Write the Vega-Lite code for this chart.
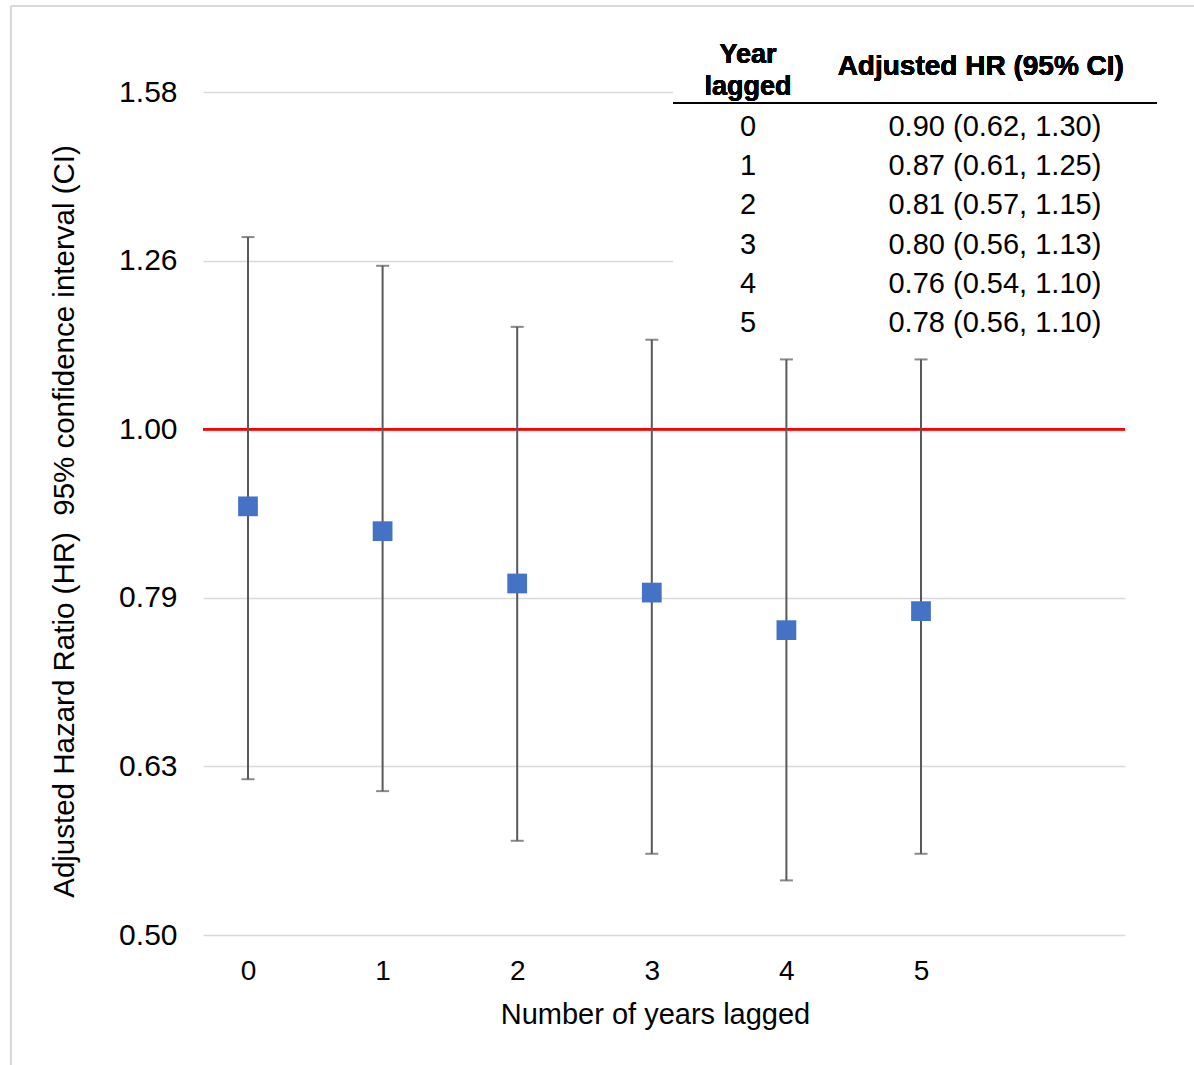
{
  "$schema": "https://vega.github.io/schema/vega-lite/v6.json",
  "width": 922,
  "height": 843,
  "autosize": {"type": "none"},
  "padding": {"left": 203, "top": 92, "right": 69, "bottom": 130},
  "background": "white",
  "config": {"view": {"stroke": null}, "font": "Liberation Sans"},
  "datasets": {
    "hr": [
      {"lag": 0, "hr": 0.90, "lo": 0.62, "hi": 1.30, "label": "0.90 (0.62, 1.30)"},
      {"lag": 1, "hr": 0.87, "lo": 0.61, "hi": 1.25, "label": "0.87 (0.61, 1.25)"},
      {"lag": 2, "hr": 0.81, "lo": 0.57, "hi": 1.15, "label": "0.81 (0.57, 1.15)"},
      {"lag": 3, "hr": 0.80, "lo": 0.56, "hi": 1.13, "label": "0.80 (0.56, 1.13)"},
      {"lag": 4, "hr": 0.76, "lo": 0.54, "hi": 1.10, "label": "0.76 (0.54, 1.10)"},
      {"lag": 5, "hr": 0.78, "lo": 0.56, "hi": 1.10, "label": "0.78 (0.56, 1.10)"}
    ]
  },
  "data": {"name": "hr"},
  "layer": [
    {
      "layer": [
        {
          "mark": {"type": "rule", "color": "#FF0000", "strokeWidth": 2},
          "encoding": {
            "y": {"datum": 1, "type": "quantitative", "scale": {"type": "log", "domain": [0.50119, 1.58489], "nice": false}}
          }
        },
        {
          "mark": {
            "type": "errorbar",
            "ticks": {"size": 13, "thickness": 2, "color": "#595959"},
            "rule": {"strokeWidth": 2, "color": "#595959"}
          },
          "encoding": {
            "x": {"field": "lag", "type": "quantitative", "scale": {"domain": [-0.3343, 6.5156], "nice": false, "zero": false},
              "axis": {
                "values": [0, 1, 2, 3, 4, 5], "format": "d", "grid": false, "domain": false, "ticks": false, "tickSize": 0,
                "labelFontSize": 28, "labelColor": "#000000", "labelBaseline": "alphabetic", "labelPadding": 44,
                "title": "Number of years lagged", "titleFontSize": 29, "titleFontWeight": "normal", "titleColor": "#000000",
                "titleX": 452, "titleY": 88, "titleBaseline": "alphabetic", "titleAlign": "center", "titleAnchor": null
              }
            },
            "y": {"field": "lo", "type": "quantitative", "scale": {"type": "log", "domain": [0.50119, 1.58489], "nice": false},
              "axis": {
                "values": [0.50119, 0.63096, 0.79433, 1, 1.25893, 1.58489], "format": ".2f",
                "grid": true, "gridColor": "#d9d9d9", "gridWidth": 1.5, "domain": false, "ticks": false, "tickSize": 0,
                "labelFontSize": 30, "labelColor": "#000000", "labelPadding": 26,
                "title": "Adjusted Hazard Ratio (HR)\u00a0 95% confidence interval (CI)", "titleFontSize": 29.5, "titleFontWeight": "normal",
                "titleColor": "#000000", "titleAngle": -90, "titleX": -130, "titleY": 429, "titleBaseline": "alphabetic", "titleAlign": "center", "titleAnchor": null
              }
            },
            "y2": {"field": "hi"}
          }
        },
        {
          "mark": {"type": "point", "shape": "square", "filled": true, "size": 390, "color": "#4472C4", "opacity": 1},
          "encoding": {
            "x": {"field": "lag", "type": "quantitative"},
            "y": {"field": "hr", "type": "quantitative"}
          }
        }
      ]
    },
    {
      "layer": [
        {
          "mark": {"type": "rect", "color": "white"},
          "encoding": {
            "x": {"datum": 3.158, "type": "quantitative", "scale": {"domain": [-0.3343, 6.5156], "nice": false, "zero": false}, "axis": null},
            "x2": {"datum": 7.5},
            "y": {"datum": -2.959, "type": "quantitative", "scale": {"domain": [-1.1224, 20.383], "nice": false, "zero": false, "reverse": true}, "axis": null},
            "y2": {"datum": 5.204}
          }
        },
        {
          "mark": {"type": "rule", "color": "#d9d9d9", "strokeWidth": 2},
          "encoding": {
            "x": {"datum": -1.761, "type": "quantitative"},
            "y": {"datum": -3.316, "type": "quantitative"},
            "y2": {"datum": 30}
          }
        },
        {
          "mark": {"type": "rule", "color": "#d9d9d9", "strokeWidth": 2},
          "encoding": {
            "x": {"datum": -1.761, "type": "quantitative"},
            "x2": {"datum": 10},
            "y": {"datum": -3.316, "type": "quantitative"}
          }
        },
        {
          "mark": {"type": "rule", "color": "#000000", "strokeWidth": 2},
          "encoding": {
            "x": {"datum": 3.158, "type": "quantitative"},
            "x2": {"datum": 6.753},
            "y": {"datum": -0.842, "type": "quantitative"}
          }
        },
        {
          "mark": {"type": "text", "fontSize": 27, "fontWeight": "bold", "align": "center", "baseline": "alphabetic", "color": "#000000", "text": "Year"},
          "encoding": {
            "x": {"datum": 3.715, "type": "quantitative"},
            "y": {"datum": -1.85, "type": "quantitative"}
          }
        },
        {
          "mark": {"type": "text", "fontSize": 27, "fontWeight": "bold", "align": "center", "baseline": "alphabetic", "color": "#000000", "text": "lagged"},
          "encoding": {
            "x": {"datum": 3.715, "type": "quantitative"},
            "y": {"datum": -1.046, "type": "quantitative"}
          }
        },
        {
          "mark": {"type": "text", "fontSize": 28, "fontWeight": "bold", "align": "center", "baseline": "alphabetic", "color": "#000000", "text": "Adjusted HR (95% CI)"},
          "encoding": {
            "x": {"datum": 5.444, "type": "quantitative"},
            "y": {"datum": -1.556, "type": "quantitative"}
          }
        },
        {
          "mark": {"type": "text", "fontSize": 29, "align": "center", "baseline": "alphabetic", "color": "#000000"},
          "encoding": {
            "x": {"datum": 3.715, "type": "quantitative"},
            "y": {"field": "lag", "type": "quantitative"},
            "text": {"field": "lag", "type": "quantitative", "format": "d"}
          }
        },
        {
          "mark": {"type": "text", "fontSize": 29, "align": "center", "baseline": "alphabetic", "color": "#000000"},
          "encoding": {
            "x": {"datum": 5.549, "type": "quantitative"},
            "y": {"field": "lag", "type": "quantitative"},
            "text": {"field": "label", "type": "nominal"}
          }
        }
      ]
    }
  ],
  "resolve": {"scale": {"x": "independent", "y": "independent"}}
}
